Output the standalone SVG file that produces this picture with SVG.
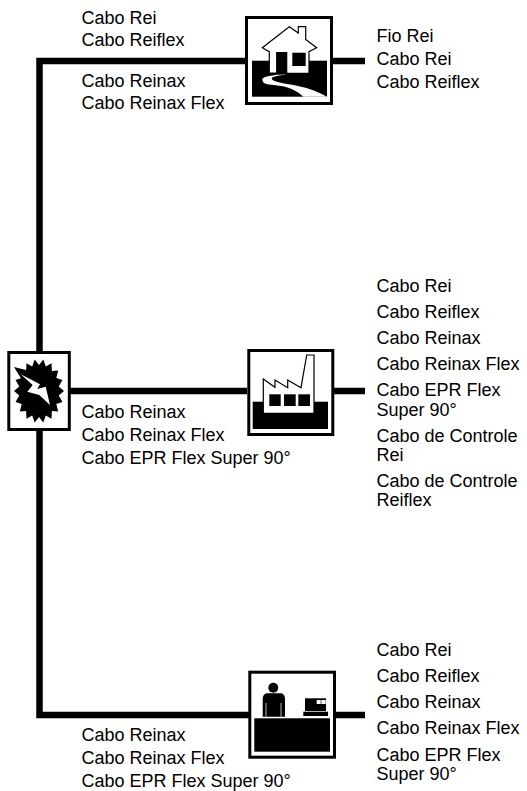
<svg xmlns="http://www.w3.org/2000/svg" width="527" height="791" viewBox="0 0 527 791">
<style>
text{font-family:"Liberation Sans",Arial,sans-serif;font-size:18px;fill:#000}
.box{fill:#fff;stroke:#000;stroke-width:3}
.ln{fill:none;stroke:#000;stroke-width:6.500}
.w{fill:#fff}
.wl{fill:#fff;stroke:#000;stroke-width:1.200}
</style>
<rect width="527" height="791" fill="#fff"/>
<g id="connectors">
<path class="ln" d="M245 61H39.500V351"/>
<path class="ln" d="M39.500 431V715H249"/>
<path class="ln" d="M70 391H247"/>
<path class="ln" d="M332 61H365"/>
<path class="ln" d="M334 391H365"/>
<path class="ln" d="M336 715H365"/>
</g>
<g id="node-house">
<rect class="box" x="246.500" y="17.500" width="85" height="86"/>
<rect x="252" y="60.700" width="75" height="36"/>
<path class="wl" d="M262.300 47.700L289.300 26.700L298.300 33V26.700H305.700V39.500L316.700 47.700L309 51.700V73.300H287V74H276.700V52.700H286.700V73H269.300V51.700Z"/>
<rect x="276.700" y="52.700" width="10" height="22"/>
<rect x="292.300" y="52.700" width="13.400" height="13.300"/>
<path class="w" d="M276.700 74.700C273 75.500 262.300 76.500 262.300 79.300C262.300 82 264 83.500 266.700 84C272 85.500 280 85 286.700 87.300C293 89.500 297 91 303.300 96.700H327C318 92 312 89.500 303.300 87.300C295 85 285 84 278.300 82.300C274 81 271.700 80 271.700 78.300C271.700 77 278 75.500 286.700 74.500Z"/>
</g>
<g id="node-source">
<rect class="box" x="8.800" y="352.500" width="60.500" height="77"/>
<path d="M64 391L58.700 395.500L62.500 401.900L56.300 404L58.200 411.600L51.900 410.900L51.500 418.700L45.800 415.400L43.300 422.500L39 417L34.700 422.500L32.200 415.400L26.500 418.700L26.100 410.900L19.800 411.600L21.700 404L15.500 401.900L19.300 395.500L14 391L19.300 386.500L15.500 380.100L21.700 378L19.800 370.400L26.100 371.100L26.500 363.300L32.200 366.600L34.700 359.500L39 365L43.300 359.500L45.800 366.600L51.500 363.300L51.900 371.100L58.200 370.400L56.300 378L62.500 380.100L58.700 386.500Z"/>
<path d="M14 367L30 371L22 380Z"/>
<path class="w" d="M20.700 374.300L40 384.300L37.300 389L45.700 386.700L50 405L39.300 395L27.300 391.700L32.700 385Z"/>
</g>
<g id="node-factory">
<rect class="box" x="248.800" y="350.500" width="84" height="84"/>
<rect x="252.700" y="401.700" width="75.300" height="27.300"/>
<path class="wl" d="M263.300 379L275 387.300V380L287.700 387.700V380L301 387.700L306.700 355H314V413.300H263.300Z"/>
<rect x="269.300" y="394.300" width="11.400" height="11.700"/>
<rect x="284" y="394.300" width="11.700" height="11.700"/>
<rect x="298.300" y="394.300" width="11.700" height="11.700"/>
</g>
<g id="node-shop">
<rect class="box" x="249.800" y="672.200" width="84.700" height="85"/>
<rect x="254.300" y="718.300" width="75.700" height="33.400"/>
<circle cx="273.300" cy="687.700" r="5"/>
<path d="M262.700 716.700V699Q262.700 693.300 268 693.300H280Q285 693.300 285 699V716.700Z"/>
<path d="M266 716.700V703M281 716.700V703" stroke="#fff" stroke-width="0.700" fill="none"/>
<rect x="305" y="698.300" width="21" height="12.700"/>
<rect x="303.300" y="711.700" width="24.700" height="4.300"/>
<rect x="316.700" y="700" width="4" height="4" class="w"/>
<rect x="321.300" y="700" width="4.400" height="4" class="w"/>
</g>
<g id="labels-top">
<text x="81.500" y="24">Cabo Rei</text>
<text x="81.500" y="46">Cabo Reiflex</text>
<text x="81.500" y="87">Cabo Reinax</text>
<text x="81.500" y="109">Cabo Reinax Flex</text>
<text x="376.500" y="42">Fio Rei</text>
<text x="376.500" y="65">Cabo Rei</text>
<text x="376.500" y="88">Cabo Reiflex</text>
</g>
<g id="labels-middle">
<text x="81.500" y="418">Cabo Reinax</text>
<text x="81.500" y="441">Cabo Reinax Flex</text>
<text x="81.500" y="464">Cabo EPR Flex Super 90°</text>
<text x="376.500" y="292">Cabo Rei</text>
<text x="376.500" y="318">Cabo Reiflex</text>
<text x="376.500" y="344">Cabo Reinax</text>
<text x="376.500" y="370">Cabo Reinax Flex</text>
<text x="376.500" y="396">Cabo EPR Flex</text>
<text x="376.500" y="416">Super 90°</text>
<text x="376.500" y="442">Cabo de Controle</text>
<text x="376.500" y="461">Rei</text>
<text x="376.500" y="487">Cabo de Controle</text>
<text x="376.500" y="506">Reiflex</text>
</g>
<g id="labels-bottom">
<text x="81.500" y="741">Cabo Reinax</text>
<text x="81.500" y="764">Cabo Reinax Flex</text>
<text x="81.500" y="787">Cabo EPR Flex Super 90°</text>
<text x="376.500" y="656">Cabo Rei</text>
<text x="376.500" y="682">Cabo Reiflex</text>
<text x="376.500" y="708">Cabo Reinax</text>
<text x="376.500" y="734">Cabo Reinax Flex</text>
<text x="376.500" y="761">Cabo EPR Flex</text>
<text x="376.500" y="780">Super 90°</text>
</g>
</svg>
